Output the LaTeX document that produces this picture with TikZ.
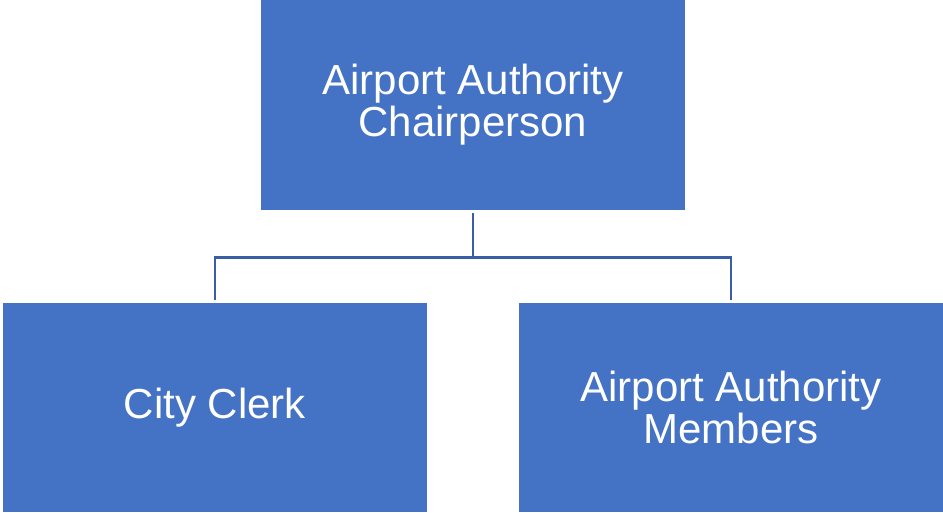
\documentclass[tikz,border=0pt]{standalone}
\usepackage{fontspec}
\setmainfont{Liberation Sans}
\definecolor{boxblue}{HTML}{4472C4}
\definecolor{lineblue}{HTML}{3A5DA5}
\begin{document}
\begin{tikzpicture}[x=1pt,y=1pt,
        box node/.style={fill=boxblue,text=white,minimum width=424pt,minimum height=210pt,
            align=center,inner sep=0pt,font=\fontsize{42}{42}\selectfont},
        link/.style={draw=lineblue,line width=2.7pt,shorten <=3pt,shorten >=3pt}]

        \useasboundingbox (0,0) rectangle (943,512);

        % Define boxes
        \node[box node] (chair) at (473,407) {Airport Authority\\Chairperson};
        \node[box node,minimum height=209pt] (clerk) at (215,104.5) {City Clerk};
        \node[box node,minimum height=209pt] (members) at (731,104.5) {Airport Authority\\Members};

        % Draw links
        \draw[link] (chair.south) -- ++(0,-47) -| (clerk.north);
        \draw[link] (chair.south) -- ++(0,-47) -| (members.north);

        \end{tikzpicture}
\end{document}
